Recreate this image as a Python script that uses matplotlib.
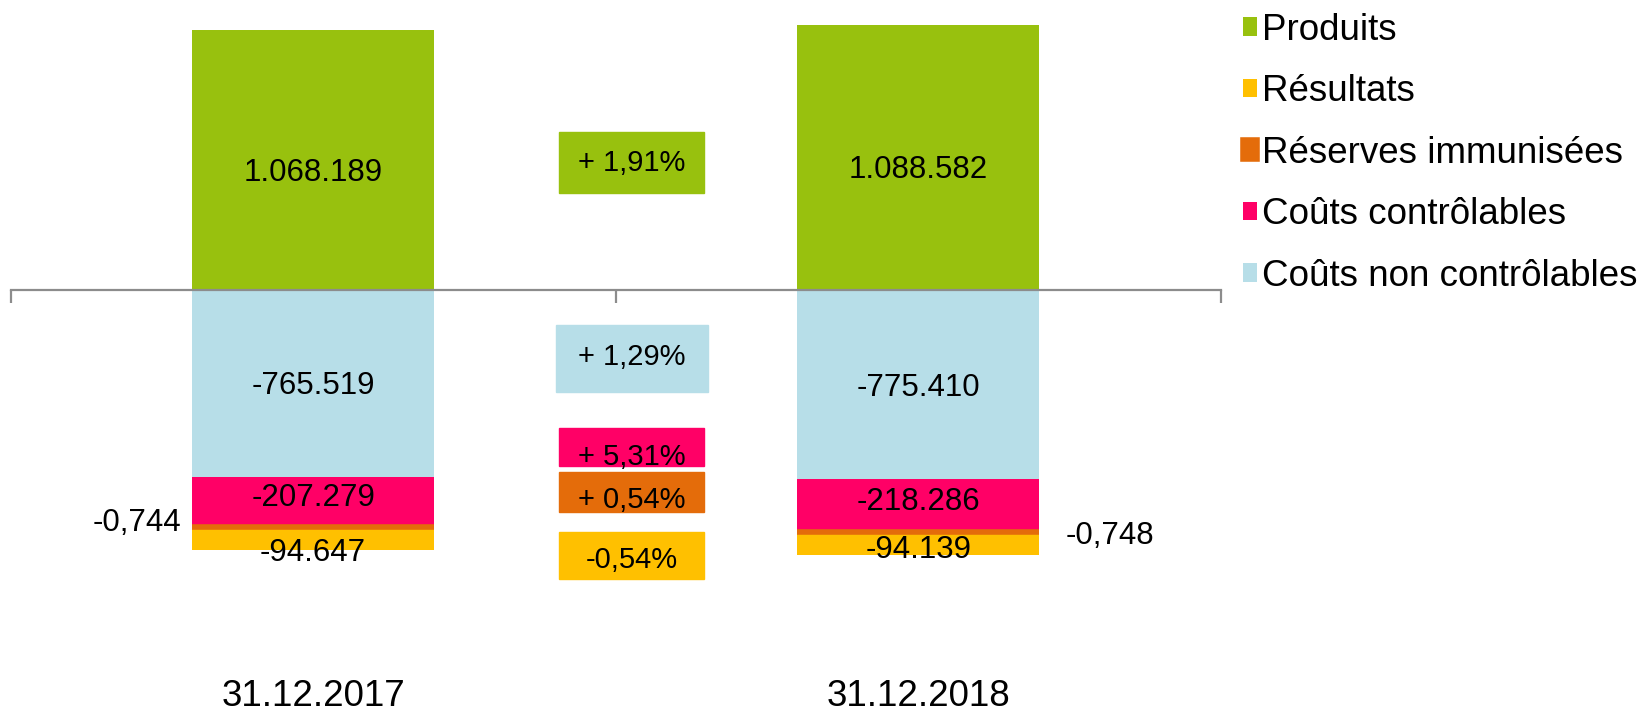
#!/usr/bin/env python3
"""Stacked bars: produits vs. costs split, 31.12.2017 / 31.12.2018 (k EUR)."""

import matplotlib.pyplot as plt
from matplotlib.transforms import Affine2D

# =============================================================================
# DATA (thousands)
# =============================================================================
DATES = ["31.12.2017", "31.12.2018"]
SERIES = ["Produits", "Résultats", "Réserves immunisées",
          "Coûts contrôlables", "Coûts non contrôlables"]

PRODUITS = [1068.189, 1088.582]
COUTS_NON_CONTROLABLES = [-765.519, -775.410]
COUTS_CONTROLABLES = [-207.279, -218.286]
RESERVES = [-0.744, -0.748]
RESULTATS = [-94.647, -94.139]

# evolution 2017 -> 2018, same order as the boxes from top to bottom
VARIATIONS = ["+ 1,91%", "+ 1,29%", "+ 5,31%", "+ 0,54%", "-0,54%"]

# =============================================================================
# STYLE / LAYOUT
# =============================================================================
W, H, DPI = 1646, 714, 100
FONT = ["Liberation Sans", "DejaVu Sans"]
VALUE_FS = 22.5
PCT_FS = 21
BIG_FS = 26.5

C_PROD = "#98C10E"
C_RES = "#FFC000"
C_RESV = "#E46C0A"
C_CC = "#FF0066"
C_CNC = "#B7DEE8"
AXIS_GREY = "#8C8C8C"

ZERO_PX = 290          # pixel row of the zero line
K = 0.2438             # pixels per thousand
BAR_W = 0.4

# variation boxes: (colour, top px, bottom px, text centre px)
BOXES = [
    (C_PROD, 132, 193, 163),
    (C_CNC, 325, 392, 357),
    (C_CC, 428, 466, 457),
    (C_RESV, 472, 512, 500),
    (C_RES, 532, 579, 560),
]

plt.rcParams["font.family"] = FONT


def main() -> None:
    fig = plt.figure(figsize=(W / DPI, H / DPI), dpi=DPI)
    ax = fig.add_axes([10.5 / W, 0, 1210.5 / W, 1])
    ax.set_xlim(-0.5, 1.5)
    ax.set_ylim(-(H - ZERO_PX) / K, ZERO_PX / K)

    x = list(range(len(DATES)))

    b_prod = ax.bar(x, PRODUITS, BAR_W, color=C_PROD, zorder=2)

    bottom = [0.0, 0.0]
    b_cnc = ax.bar(x, COUTS_NON_CONTROLABLES, BAR_W, bottom=bottom, color=C_CNC, zorder=2)
    cnc_bottom = bottom[:]
    bottom = [b + v for b, v in zip(bottom, COUTS_NON_CONTROLABLES)]
    cc_bottom = bottom[:]
    b_cc = ax.bar(x, COUTS_CONTROLABLES, BAR_W, bottom=bottom, color=C_CC, zorder=2)
    bottom = [b + v for b, v in zip(bottom, COUTS_CONTROLABLES)]
    resv_bottom = bottom[:]
    b_resv = ax.bar(x, RESERVES, BAR_W, bottom=bottom, color=C_RESV,
                    edgecolor=C_RESV, linewidth=4, zorder=3)
    bottom = [b + v for b, v in zip(bottom, RESERVES)]
    res_bottom = bottom[:]
    b_res = ax.bar(x, RESULTATS, BAR_W, bottom=bottom, color=C_RES, zorder=2)

    # zero line with ticks at category boundaries
    for s in ["top", "right", "left"]:
        ax.spines[s].set_visible(False)
    ax.spines["bottom"].set_position(("data", 0))
    ax.spines["bottom"].set_color(AXIS_GREY)
    ax.spines["bottom"].set_linewidth(1.6)
    ax.spines["bottom"].set_zorder(4)
    ax.set_yticks([])
    ax.set_xticks([i - 0.5 for i in range(len(DATES) + 1)])
    ax.set_xticklabels([])
    ax.tick_params(axis="x", direction="out", length=9, width=1.6, color=AXIS_GREY)

    def thousands(v):
        return f"{v * 1000:,.0f}".replace(",", ".")

    def label(xi, y, txt, dy_px=0, **kw):
        ax.annotate(txt, (xi, y), xytext=(0, -dy_px * 0.72), textcoords="offset points",
                    ha=kw.pop("ha", "center"), va="center", fontsize=VALUE_FS,
                    zorder=5, **kw)

    for i in x:
        label(i, PRODUITS[i] / 2, thousands(PRODUITS[i]), dy_px=13)
        label(i, cnc_bottom[i] + COUTS_NON_CONTROLABLES[i] / 2,
              thousands(COUTS_NON_CONTROLABLES[i]), dy_px=3)
        label(i, cc_bottom[i] + COUTS_CONTROLABLES[i] / 2,
              thousands(COUTS_CONTROLABLES[i]), dy_px=-4)
        label(i, res_bottom[i] + RESULTATS[i] / 2,
              thousands(RESULTATS[i]), dy_px=14 if i == 0 else 6)

    # reserves: tiny values written beside the bars
    resv_txt = [f"{v:.3f}".replace(".", ",") for v in RESERVES]
    ax.annotate(resv_txt[0], (x[0] - BAR_W / 2, resv_bottom[0]), xytext=(-8, 3),
                textcoords="offset points", ha="right", va="center", fontsize=VALUE_FS)
    ax.annotate(resv_txt[1], (x[1] + BAR_W / 2, resv_bottom[1]), xytext=(19, -3),
                textcoords="offset points", ha="left", va="center", fontsize=VALUE_FS)

    # category labels far below the bars
    for i, d in enumerate(DATES):
        ax.annotate(d, (i, 0), xytext=(0, -(696 - ZERO_PX) * 0.72), textcoords="offset points",
                    ha="center", va="center", fontsize=BIG_FS)

    # variation boxes in figure pixels (y downwards)
    px = Affine2D().scale(1 / W, -1 / H).translate(0, 1) + fig.transFigure
    for (col, top, bot, tc), txt in zip(BOXES, VARIATIONS):
        left, right = (556, 708) if col == C_CNC else (559, 704)
        fig.patches.append(plt.Rectangle((left, top), right - left, bot - top,
                                         transform=px, color=col, zorder=1))
        fig.text((left + right) / 2, tc, txt, transform=px, ha="center", va="center",
                 fontsize=PCT_FS)

    handles = [b_prod, b_res, b_resv, b_cc, b_cnc]
    fig.legend(handles, SERIES, loc="upper left", bbox_to_anchor=(1228 / W, 1 + 2 / H),
               frameon=False, fontsize=BIG_FS, handlelength=0.4, handleheight=0.4,
               handletextpad=0.12, labelspacing=0.72, borderaxespad=0)

    fig.savefig("out.png", dpi=DPI)
    plt.close(fig)


if __name__ == "__main__":
    main()
